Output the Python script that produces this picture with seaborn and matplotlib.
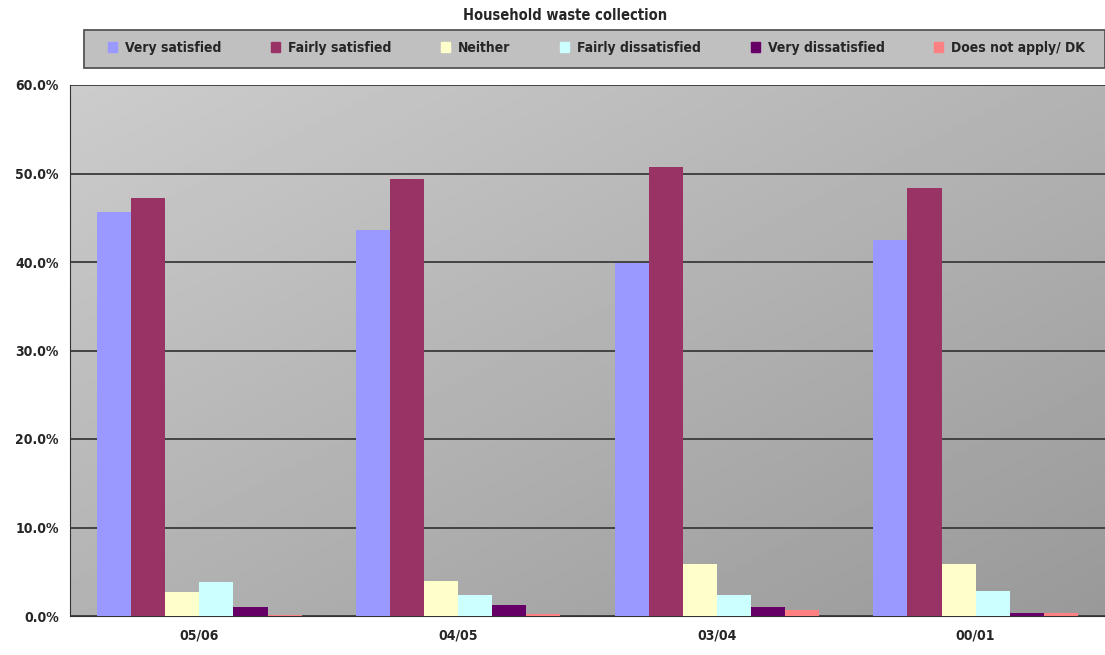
import numpy as np
import pandas as pd
import seaborn as sns
import matplotlib.pyplot as plt
from matplotlib.patches import Rectangle
from matplotlib.ticker import MultipleLocator, FuncFormatter

# data (percent)
years = ["05/06", "04/05", "03/04", "00/01"]
responses = ["Very satisfied", "Fairly satisfied", "Neither", "Fairly dissatisfied",
             "Very dissatisfied", "Does not apply/ DK"]
very_satisfied = [45.6, 43.6, 39.9, 42.5]
fairly_satisfied = [47.2, 49.4, 50.7, 48.4]
neither = [2.7, 4.0, 5.9, 5.9]
fairly_dissatisfied = [3.8, 2.4, 2.4, 2.8]
very_dissatisfied = [1.0, 1.2, 1.0, 0.3]
not_apply = [0.1, 0.2, 0.7, 0.3]

colors = ["#9999FF", "#993366", "#FFFFCC", "#CCFFFF", "#660066", "#FF8080"]

df = pd.DataFrame({
    "year": years * 6,
    "response": np.repeat(responses, 4),
    "value": very_satisfied + fairly_satisfied + neither + fairly_dissatisfied
             + very_dissatisfied + not_apply,
})

sns.set_style("white")
plt.rcParams['font.family'] = ['DejaVu Sans']
plt.rcParams['font.stretch'] = 'condensed'
plt.rcParams['font.weight'] = 'bold'

W, H = 1105, 655
fig = plt.figure(figsize=(W / 100, H / 100), dpi=100)
ax = fig.add_axes([70 / W, 1 - 616 / H, 1 - 70 / W, (616 - 85) / H])

# gray gradient background (light top-left, dark bottom-right)
gx, gy = np.meshgrid(np.linspace(0, 1, 200), np.linspace(0, 1, 200))
shade = 0.80 - 0.2 * (0.5 * gx + 0.5 * gy)
ax.imshow(shade, cmap="gray", vmin=0, vmax=1, extent=[-0.5, 3.5, 0, 60],
          aspect="auto", zorder=0)

sns.barplot(data=df, x="year", y="value", hue="response", hue_order=responses,
            order=years, palette=colors, width=0.79, gap=0, saturation=1,
            edgecolor="none", ax=ax, zorder=3)

ax.set_xlim(-0.5, 3.5)
ax.set_ylim(0, 60)
ax.yaxis.set_major_locator(MultipleLocator(10))
ax.yaxis.set_minor_locator(MultipleLocator(2))
ax.yaxis.set_major_formatter(FuncFormatter(lambda v, p: f"{v:.1f}%"))
ax.grid(axis="y", which="major", color="#3a3a3a", linewidth=1.3, zorder=1)
ax.set_axisbelow(True)
ax.set_xlabel("")
ax.set_ylabel("")
ax.set_xticks([0.5, 1.5, 2.5], minor=True)
ax.tick_params(axis="x", which="major", length=0, pad=9, labelsize=10)
ax.tick_params(axis="x", which="minor", length=5, color="#333333", direction="out")
ax.tick_params(axis="y", which="major", length=5, color="#333333", labelsize=10, pad=3)
ax.tick_params(axis="y", which="minor", length=3, color="#333333")
for s in ["top", "right"]:
    ax.spines[s].set_visible(False)
ax.spines["left"].set_color("#333333")
ax.spines["bottom"].set_color("#333333")

# legend box drawn as a figure patch, entries spread inside it
ax.legend_.remove()
fig.patches.append(Rectangle((84 / W, 1 - 68 / H), 1 - 84 / W, 38 / H,
                             transform=fig.transFigure, facecolor="#C0C0C0",
                             edgecolor="#555555", linewidth=1.3, zorder=0))
handles = [Rectangle((0, 0), 1, 1, color=c) for c in colors]
fig.legend(handles, responses, ncol=6, loc="center left",
           bbox_to_anchor=(108 / W, 1 - 48 / H, (1085 - 108) / W, 0.0), mode="expand",
           frameon=False, fontsize=10, handlelength=0.65, handleheight=0.65,
           handletextpad=0.55, borderaxespad=0, borderpad=0)

fig.text(565 / W, 1 - 15 / H, "Household waste collection", ha="center", va="center",
         fontsize=10.5, fontweight="bold")

fig.savefig("out.png", dpi=100)
